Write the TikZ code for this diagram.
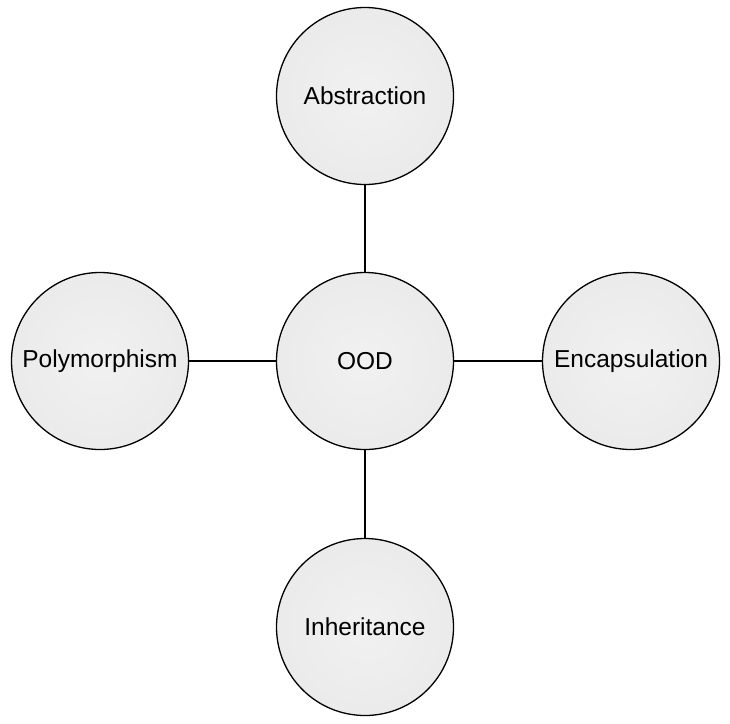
\documentclass[tikz,border=0pt]{standalone}
\usepackage{fontspec}
\setmainfont{Liberation Sans}
\begin{document}
\begin{tikzpicture}[x=1pt,y=-1pt,
  concept/.style={circle, draw=black, line width=1.3pt, minimum size=177pt, inner sep=0pt,
    inner color=gray!11, outer color=gray!16, font=\fontsize{24.5}{28}\selectfont},
  link/.style={draw=black, line width=1.2pt}]
\useasboundingbox (0,0) rectangle (730,723);
\fill[white] (0,0) rectangle (730,723);
\node[concept] (ood) at (365,361) {OOD};
\node[concept] (abs) at (365,96) {Abstraction};
\node[concept] (inh) at (365,627) {Inheritance};
\node[concept] (poly) at (100,361) {Polymorphism};
\node[concept] (enc) at (631,361) {Encapsulation};
\draw[link] (ood) -- (abs);
\draw[link] (ood) -- (inh);
\draw[link] (ood) -- (poly);
\draw[link] (ood) -- (enc);
\end{tikzpicture}
\end{document}
